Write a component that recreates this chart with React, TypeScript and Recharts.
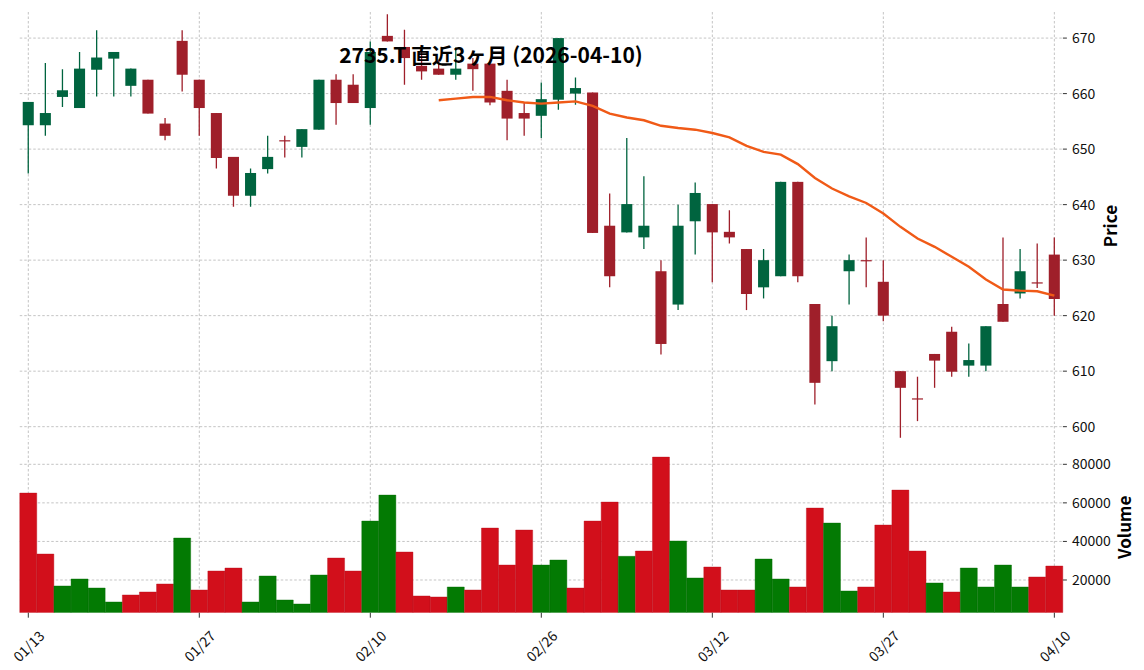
import {
  Bar,
  CartesianGrid,
  Cell,
  ComposedChart,
  Line,
  XAxis,
  YAxis,
} from "recharts";

const dates = [
  "01/13", "01/14", "01/15", "01/16", "01/19", "01/20", "01/21", "01/22", "01/23", "01/26",
  "01/27", "01/28", "01/29", "01/30", "02/02", "02/03", "02/04", "02/05", "02/06", "02/09",
  "02/10", "02/12", "02/13", "02/16", "02/17", "02/18", "02/19", "02/20", "02/24", "02/25",
  "02/26", "02/27", "03/02", "03/03", "03/04", "03/05", "03/06", "03/09", "03/10", "03/11",
  "03/12", "03/13", "03/16", "03/17", "03/18", "03/19", "03/23", "03/24", "03/25", "03/26",
  "03/27", "03/30", "03/31", "04/01", "04/02", "04/03", "04/06", "04/07", "04/08", "04/09",
  "04/10",
];

const opens = [
  654.3, 654.3, 659.4, 657.4, 664.3, 666.3, 661.4, 662.5, 654.6, 669.5,
  662.5, 656.5, 648.6, 641.6, 646.4, 651.6, 650.4, 653.5, 662.5, 661.6,
  657.4, 670.4, 668.4, 665.0, 664.5, 663.4, 665.4, 665.4, 660.5, 656.5,
  656.0, 658.9, 660.0, 660.2, 636.2, 635.0, 634.1, 628.0, 622.0, 637.0,
  640.1, 635.1, 632.0, 625.1, 627.1, 644.1, 622.1, 611.8, 628.0, 630.0,
  626.1, 610.0, 605.1, 613.1, 617.1, 611.0, 611.0, 622.1, 624.0, 626.0,
  631.0,
];

const highs = [
  658.5, 665.5, 664.4, 667.5, 671.4, 667.5, 664.5, 662.5, 655.6, 671.4,
  662.5, 656.5, 648.6, 646.5, 652.4, 652.4, 653.6, 662.5, 663.5, 663.5,
  669.4, 674.3, 671.5, 668.5, 666.0, 668.3, 666.4, 665.4, 662.5, 658.3,
  662.0, 670.0, 662.9, 660.2, 642.0, 652.0, 645.1, 630.0, 640.0, 644.0,
  640.1, 639.0, 632.0, 632.0, 644.1, 644.1, 622.1, 620.0, 631.0, 634.1,
  630.0, 610.0, 609.0, 613.1, 618.0, 615.0, 618.1, 634.1, 632.0, 633.0,
  634.1,
];

const lows = [
  645.6, 652.4, 657.6, 657.4, 659.5, 659.5, 659.5, 656.4, 651.6, 660.4,
  652.4, 646.5, 639.6, 639.6, 645.6, 648.5, 648.5, 653.5, 654.4, 658.3,
  654.4, 669.4, 661.6, 662.5, 663.4, 662.5, 660.5, 657.9, 651.6, 652.4,
  652.0, 657.1, 658.0, 634.9, 625.1, 635.0, 632.0, 613.0, 621.0, 631.0,
  626.0, 633.0, 621.0, 623.1, 627.1, 626.0, 604.0, 610.0, 622.0, 625.1,
  619.0, 598.0, 601.0, 607.0, 609.0, 609.0, 610.0, 618.9, 623.1, 625.0,
  620.0,
];

const closes = [
  658.5, 656.5, 660.6, 664.5, 666.5, 667.5, 664.5, 656.4, 652.4, 663.4,
  657.4, 648.4, 641.6, 645.7, 648.6, 651.6, 653.6, 662.5, 658.3, 658.3,
  667.5, 669.4, 666.4, 664.0, 663.4, 664.5, 664.4, 658.4, 655.5, 655.5,
  659.0, 670.0, 661.0, 634.9, 627.1, 640.1, 636.2, 614.9, 636.2, 642.1,
  635.0, 634.1, 623.9, 630.0, 644.1, 627.1, 607.9, 618.1, 630.0, 630.0,
  620.0, 607.0, 605.1, 611.9, 609.9, 612.0, 618.1, 618.9, 628.0, 626.0,
  623.0,
];

const volumes = [
  65080, 33470, 16890, 20520, 15850, 8600, 12230, 13780, 17930, 41760,
  14820, 24660, 26210, 8600, 22070, 9640, 7560, 22590, 31400, 24660,
  50570, 64040, 34510, 11710, 11190, 16370, 14820, 46940, 27760, 45910,
  27760, 30360, 15850, 50570, 60410, 32280, 35030, 83730, 40210, 21040,
  26740, 14820, 14820, 30880, 20520, 16370, 57300, 49530, 14300, 16370,
  48500, 66630, 35030, 18450, 13780, 26210, 16370, 27760, 16370, 21560,
  27250,
];

// 25-day moving average
const ma25 = [
  null, null, null, null, null, null, null, null, null, null,
  null, null, null, null, null, null, null, null, null, null,
  null, null, null, null, 658.8, 659.1, 659.4, 659.4, 658.8, 658.4,
  658.2, 658.4, 658.6, 657.8, 656.4, 655.7, 655.2, 654.2, 653.8, 653.5,
  652.9, 652.1, 650.6, 649.5, 649.0, 647.3, 644.8, 642.9, 641.5, 640.3,
  638.4, 636.0, 633.9, 632.4, 630.6, 628.8, 626.5, 624.7, 624.5, 624.4,
  623.6,
];

const tickDates = ["01/13", "01/27", "02/10", "02/26", "03/12", "03/27", "04/10"];
const priceTicks = [600, 610, 620, 630, 640, 650, 660, 670];
const volumeTicks = [20000, 40000, 60000, 80000];

const CANDLE_UP = "#00643f";
const CANDLE_DOWN = "#9f1f2a";
const VOL_UP = "#037a03";
const VOL_DOWN = "#d20f1b";
const GRID = "#c4c4c4";
const FONT = "'Noto Sans CJK JP', 'Noto Sans', sans-serif";

const rows = dates.map((date, i) => ({
  date,
  open: opens[i],
  high: highs[i],
  low: lows[i],
  close: closes[i],
  range: [lows[i], highs[i]],
  volume: volumes[i],
  ma: ma25[i],
  volUp: i > 0 && closes[i] > closes[i - 1],
}));

function Candle(props: any) {
  const { x, width, payload } = props;
  let { y, height } = props;
  if (height < 0) {
    y = y + height;
    height = -height;
  }
  const { open, close, high, low } = payload;
  const span = high - low || 1;
  const py = (v: number) => y + ((high - v) / span) * height;
  const color = close > open ? CANDLE_UP : CANDLE_DOWN;
  const cx = x + width / 2;
  const top = py(Math.max(open, close));
  const bottom = py(Math.min(open, close));
  const bw = width * 0.65;
  return (
    <g>
      <line x1={cx} x2={cx} y1={y} y2={y + height} stroke={color} strokeWidth={1.3} />
      <rect x={cx - bw / 2} y={top} width={bw} height={Math.max(bottom - top, 1.2)} fill={color} />
    </g>
  );
}

function DateTick({ x, y, payload }: any) {
  const ty = y + 26;
  return (
    <text
      x={x}
      y={ty}
      transform={`rotate(-45 ${x} ${ty})`}
      textAnchor="middle"
      dominantBaseline="central"
      fontSize={14}
      fontFamily={FONT}
      fill="#111"
    >
      {payload.value}
    </text>
  );
}

const sideLabel = (text: string, dx: number) => (props: any) => {
  const vb = props.viewBox;
  const cx = vb.x + dx;
  const cy = vb.y + vb.height / 2;
  return (
    <text
      x={cx}
      y={cy}
      transform={`rotate(-90 ${cx} ${cy})`}
      textAnchor="middle"
      dominantBaseline="central"
      fontSize={17}
      fontWeight="bold"
      fontFamily={FONT}
      fill="#000"
    >
      {text}
    </text>
  );
};

const tickStyle = { fontSize: 14, fill: "#111", fontFamily: FONT };
const margin = { top: 0, right: 0, bottom: 0, left: 19.75 };

export default function App() {
  return (
    <div style={{ position: "absolute", left: 0, top: 0, width: 1144, height: 670, background: "#fff" }}>
      <div style={{ position: "absolute", left: 0, top: 0 }}>
        <ComposedChart width={1144} height={440} data={rows} margin={{ ...margin, top: 12 }} barCategoryGap={0} barGap={0}>
          <XAxis
            dataKey="date"
            ticks={tickDates}
            interval={0}
            height={0}
            tick={() => <g />}
            tickLine={false}
            axisLine={false}
          />
          <YAxis
            orientation="right"
            width={81.1}
            domain={[597.6, 674.7]}
            ticks={priceTicks}
            allowDataOverflow
            axisLine={false}
            tickLine={{ stroke: "#333" }}
            tickSize={4}
            tickMargin={5}
            tick={tickStyle}
            label={sideLabel("Price", 47)}
          />
          <CartesianGrid stroke={GRID} strokeDasharray="2.5 2" syncWithTicks />
          <Bar dataKey="range" shape={Candle} isAnimationActive={false} />
          <Line dataKey="ma" stroke="#f05a17" strokeWidth={2.4} dot={false} isAnimationActive={false} />
        </ComposedChart>
      </div>
      <div style={{ position: "absolute", left: 0, top: 442 }}>
        <ComposedChart width={1144} height={228} data={rows} margin={margin} barCategoryGap={0} barGap={0}>
          <XAxis
            dataKey="date"
            ticks={tickDates}
            interval={0}
            height={57.3}
            axisLine={false}
            tickLine={{ stroke: "#333" }}
            tickSize={5}
            tick={DateTick}
          />
          <YAxis
            orientation="right"
            width={81.1}
            domain={[3040, 91570]}
            ticks={volumeTicks}
            allowDataOverflow
            axisLine={false}
            tickLine={{ stroke: "#333" }}
            tickSize={4}
            tickMargin={5}
            tick={tickStyle}
            label={sideLabel("Volume", 61)}
          />
          <CartesianGrid stroke={GRID} strokeDasharray="2.5 2" syncWithTicks />
          <Bar dataKey="volume" isAnimationActive={false}>
            {rows.map((r) => (
              <Cell key={r.date} fill={r.volUp ? VOL_UP : VOL_DOWN} stroke={r.volUp ? "#026a02" : "#b80d18"} strokeWidth={0.4} />
            ))}
          </Bar>
        </ComposedChart>
      </div>
      <svg width={1144} height={670} style={{ position: "absolute", left: 0, top: 0, pointerEvents: "none" }}>
        <text x={491} y={63} textAnchor="middle" fontSize={21} fontWeight="bold" fontFamily={FONT} fill="#000">
          2735.T 直近3ヶ月 (2026-04-10)
        </text>
      </svg>
    </div>
  );
}
